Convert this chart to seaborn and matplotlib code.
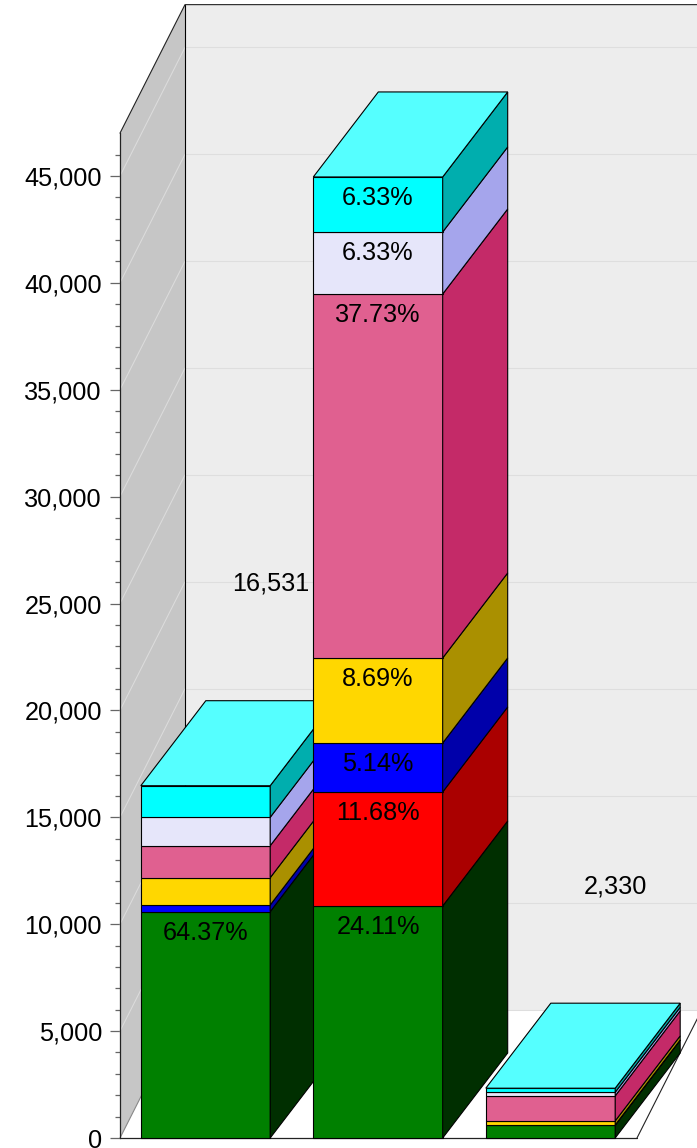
import numpy as np
import matplotlib
matplotlib.use("Agg")
import matplotlib.pyplot as plt
import seaborn as sns

# Bars (zero = segment not drawn)
bar_pos = [0, 1, 2]
totals = ["16,531", "", "2,330"]
green = [10585, 10853, 600]
red = [0, 5332, 0]
blue = [313, 2292, 10]
gold = [1277, 3976, 190]
pink = [1497, 17025, 1170]
lavender = [1328, 2900, 170]
cyan = [1478, 2573, 190]

green_pct = ["64.37%", "24.11%", ""]
red_pct = ["", "11.68%", ""]
blue_pct = ["", "5.14%", ""]
gold_pct = ["", "8.69%", ""]
pink_pct = ["", "37.73%", ""]
lavender_pct = ["", "6.33%", ""]
cyan_pct = ["", "6.33%", ""]

series = [
    (green, green_pct, "#008000", "#002f00"),
    (red, red_pct, "#ff0000", "#aa0000"),
    (blue, blue_pct, "#0000ff", "#0000aa"),
    (gold, gold_pct, "#ffd700", "#aa9000"),
    (pink, pink_pct, "#e06090", "#c42a68"),
    (lavender, lavender_pct, "#e6e6fa", "#a5a5ec"),
    (cyan, cyan_pct, "#00ffff", "#00aeae"),
]
top_color = "#55ffff"

sns.set_style("white")
plt.rcParams["font.family"] = ["Liberation Sans", "DejaVu Sans"]

fig = plt.figure(figsize=(6.97, 11.48), dpi=100)
ax = fig.add_axes([0, 0, 1, 1])
ax.patch.set_alpha(0)

# pixel scale of the chart
px_x = 172.5     # px per bar slot
px_y = 106.9 / 5000
bar_w = 0.75
depth_x = 65 / px_x
depth_y = 85 / px_y
wall_y = 128.5 / px_y
x_left = -0.4957
x_right = 2.5014
y_max = 47000
font_size = 18.2

# bars, one call per stacked series
bottoms = np.zeros(3)
for vals, pcts, col, side in series:
    sns.barplot(x=bar_pos, y=vals, bottom=bottoms.copy(), color=col, saturation=1,
                width=bar_w, native_scale=True, errorbar=None,
                edgecolor="black", linewidth=0.8, ax=ax)
    patches = ax.containers[-1].patches
    for i in bar_pos:
        patches[i].set_zorder(3 + i)
        if vals[i] == 0:
            patches[i].set_visible(False)
            continue
        b = bottoms[i]
        t = b + vals[i]
        xr = i + bar_w / 2
        # right side of the block
        ax.fill([xr, xr + depth_x, xr + depth_x, xr],
                [b, b + depth_y, t + depth_y, t],
                facecolor=side, edgecolor="black", linewidth=0.8, zorder=3 + i)
        if pcts[i]:
            ax.annotate(pcts[i], (i, t), xytext=(0, -21.5), textcoords="offset pixels",
                        ha="center", va="center", fontsize=font_size, color="black", zorder=20)
    bottoms = bottoms + np.array(vals)

# top faces and total labels
for i in bar_pos:
    xl = i - bar_w / 2
    xr = i + bar_w / 2
    t = bottoms[i]
    ax.fill([xl, xr, xr + depth_x, xl + depth_x],
            [t, t, t + depth_y, t + depth_y],
            facecolor=top_color, edgecolor="black", linewidth=0.8, zorder=3 + i)
    if totals[i]:
        ax.annotate(totals[i], (i, t), xytext=(65, 202), textcoords="offset pixels",
                    ha="center", va="center", fontsize=font_size, color="black", zorder=20)

# walls
wall_x = x_left + 65 / px_x
ax.fill([wall_x, 3, 3, wall_x], [wall_y, wall_y, y_max + wall_y, y_max + wall_y],
        color="#ededed", linewidth=0, zorder=1)
ax.fill([x_left, wall_x, wall_x, x_left], [0, wall_y, y_max + wall_y, y_max],
        color="#c6c6c6", linewidth=0, zorder=1)

# grid lines on both walls
for v in range(0, 50000, 5000):
    ax.plot([wall_x, 3], [v + wall_y, v + wall_y], color="#dedede", lw=0.75, zorder=1.5)
    if v > 0:
        ax.plot([x_left, wall_x], [v, v + wall_y], color="#dcdcdc", lw=0.75, zorder=1.5)

# frame lines
ax.plot([x_left, wall_x, 3], [y_max, y_max + wall_y, y_max + wall_y], color="#222222", lw=0.8, zorder=2)
ax.plot([wall_x, wall_x], [wall_y, y_max + wall_y], color="black", lw=0.8, zorder=2)
ax.plot([x_left, wall_x], [0, wall_y], color="#888888", lw=0.8, zorder=2)
ax.plot([x_left, x_right], [0, 0], color="#222222", lw=0.9, zorder=2)
ax.plot([x_right, x_right + 65 / px_x], [0, wall_y], color="#222222", lw=0.8, zorder=2)

# axis limits put value 0 at pixel 1138 and the first bar at pixel 205.5
ax.set_xlim(-205.5 / px_x, (697 - 205.5) / px_x)
ax.set_ylim(-10 / px_y, 1138 / px_y)

sns.despine(ax=ax, top=True, right=True, bottom=True)
ax.spines["left"].set_position(("data", x_left))
ax.spines["left"].set_bounds(0, y_max)
ax.spines["left"].set_color("#222222")
ax.spines["left"].set_linewidth(0.9)
ax.set_xticks([])
ax.set_xlabel("")
ax.set_yticks(range(0, 50000, 5000))
ax.set_yticks(range(0, 47000, 1000), minor=True)
ax.set_yticklabels([f"{v:,}" for v in range(0, 50000, 5000)])
ax.tick_params(axis="y", which="major", left=True, length=7.2, width=0.9, color="#666666",
               pad=5.8, labelsize=font_size, labelcolor="black")
ax.tick_params(axis="y", which="minor", left=True, length=3.6, width=0.9, color="#666666")

fig.savefig("out.png", dpi=100)
